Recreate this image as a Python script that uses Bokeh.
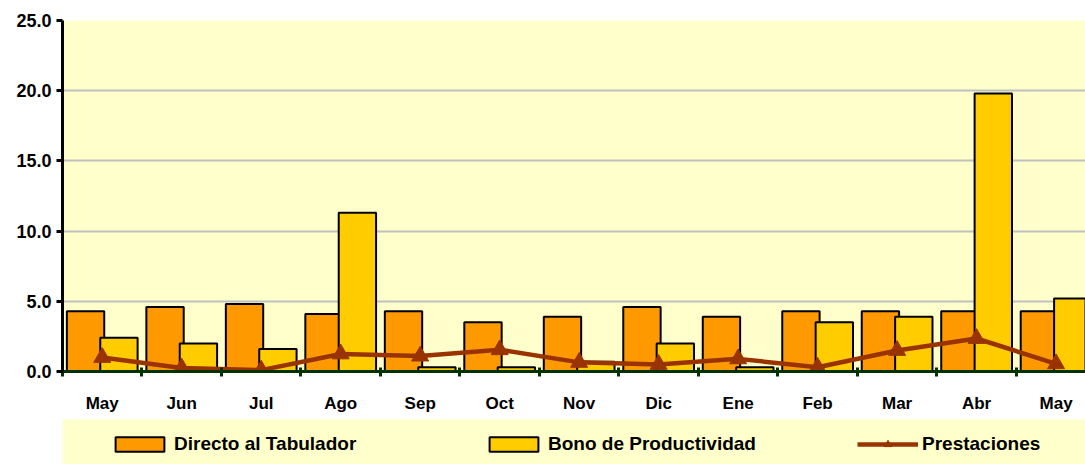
from bokeh.plotting import figure
from bokeh.models import (ColumnDataSource, Range1d, FixedTicker, PrintfTickFormatter,
                          Legend, LegendItem)
from bokeh.layouts import column
from bokeh.transform import dodge
from bokeh.embed import file_html
from bokeh.resources import INLINE

months = ["May", "Jun", "Jul", "Ago", "Sep", "Oct", "Nov", "Dic", "Ene", "Feb", "Mar", "Abr", "May"]
directo = [4.3, 4.6, 4.8, 4.1, 4.3, 3.5, 3.9, 4.6, 3.9, 4.3, 4.3, 4.3, 4.3]
bono = [2.4, 2.0, 1.6, 11.3, 0.3, 0.3, 0.7, 2.0, 0.3, 3.5, 3.9, 19.8, 5.2]
prestaciones = [1.0, 0.25, 0.1, 1.25, 1.1, 1.55, 0.65, 0.5, 0.9, 0.3, 1.5, 2.35, 0.55]
y_ticks = [0, 5, 10, 15, 20, 25]

idx = list(range(len(months)))
src = ColumnDataSource(dict(x=idx, directo=directo, bono=bono, prest=prestaciones))

FONT = "Liberation Sans"
ORANGE = "#FF9900"
YELLOW = "#FFCC00"
BROWN = "#993300"
BG = "#FFFFCC"

p = figure(width=1085, height=419, output_backend="svg", toolbar_location=None,
           x_range=Range1d(-0.5, 12.37), y_range=Range1d(0, 25),
           min_border_left=62, min_border_right=0, min_border_top=20, min_border_bottom=48)
p.background_fill_color = BG
p.border_fill_color = "white"
p.outline_line_color = None

r1 = p.vbar(x=dodge("x", -0.21), top="directo", bottom=0, width=0.47, source=src,
            fill_color=ORANGE, line_color="black", line_width=2)
r2 = p.vbar(x=dodge("x", 0.21), top="bono", bottom=0, width=0.47, source=src,
            fill_color=YELLOW, line_color="black", line_width=2)
r3 = p.line(x="x", y="prest", source=src, line_color=BROWN, line_width=4.5)
r4 = p.scatter(x="x", y="prest", source=src, marker="triangle", size=17,
               fill_color=BROWN, line_color=BROWN)

# grid
p.xgrid.visible = False
p.ygrid.ticker = FixedTicker(ticks=y_ticks)
p.ygrid.grid_line_color = "#C0C0C0"
p.ygrid.grid_line_width = 2

# y axis
ya = p.yaxis[0]
ya.ticker = FixedTicker(ticks=y_ticks)
ya.formatter = PrintfTickFormatter(format="%.1f")
ya.axis_line_color = "black"
ya.axis_line_width = 3
ya.major_tick_line_color = "black"
ya.major_tick_line_width = 3
ya.major_tick_out = 6
ya.major_tick_in = 0
ya.minor_tick_line_color = None
ya.major_label_standoff = 5
ya.major_label_text_font = FONT
ya.major_label_text_font_style = "bold"
ya.major_label_text_font_size = "18px"
ya.major_label_text_color = "black"

# x axis
xa = p.xaxis[0]
xa.ticker = FixedTicker(ticks=idx, minor_ticks=[i - 0.5 for i in range(len(months) + 1)])
xa.major_label_overrides = {i: m for i, m in enumerate(months)}
xa.axis_line_color = "#003300"
xa.axis_line_width = 3
xa.major_tick_line_color = None
xa.major_tick_in = 0
xa.major_tick_out = 0
xa.minor_tick_line_color = "#003300"
xa.minor_tick_line_width = 3
xa.minor_tick_in = 4
xa.minor_tick_out = 5
xa.major_label_standoff = 17
xa.major_label_text_font = FONT
xa.major_label_text_font_style = "bold"
xa.major_label_text_font_size = "17px"
xa.major_label_text_color = "black"

# legend strip
q = figure(width=1085, height=45, output_backend="svg", toolbar_location=None,
           x_range=Range1d(-0.5, 12.37), y_range=Range1d(0, 25),
           min_border_left=62, min_border_right=0, min_border_top=0, min_border_bottom=0,
           x_axis_location=None, y_axis_location=None)
q.background_fill_color = BG
q.border_fill_color = "white"
q.outline_line_color = None
q.grid.visible = False
l1 = q.vbar(x="x", top="directo", width=0.47, source=src, fill_color=ORANGE,
            line_color="black", line_width=2, visible=False)
l2 = q.vbar(x="x", top="bono", width=0.47, source=src, fill_color=YELLOW,
            line_color="black", line_width=2, visible=False)
l3 = q.line(x="x", y="prest", source=src, line_color=BROWN, line_width=4.5, visible=False)
l4 = q.scatter(x="x", y="prest", source=src, marker="triangle", size=15,
               fill_color=BROWN, line_color=BROWN, visible=False)

legend = Legend(items=[
    LegendItem(label="Directo al Tabulador", renderers=[l1]),
    LegendItem(label="Bono de Productividad", renderers=[l2]),
    LegendItem(label="Prestaciones", renderers=[l3, l4]),
], orientation="horizontal", location=(47, 9), padding=0, spacing=9,
    glyph_width=61, glyph_height=18, label_width=300, label_height=20, label_standoff=4,
    background_fill_alpha=0, border_line_color=None, click_policy="none",
    label_text_font=FONT, label_text_font_style="bold", label_text_font_size="19px",
    label_text_color="black", margin=0)
q.add_layout(legend)

layout = column(p, q, spacing=0)
open("out.html", "w").write(file_html(layout, INLINE))
